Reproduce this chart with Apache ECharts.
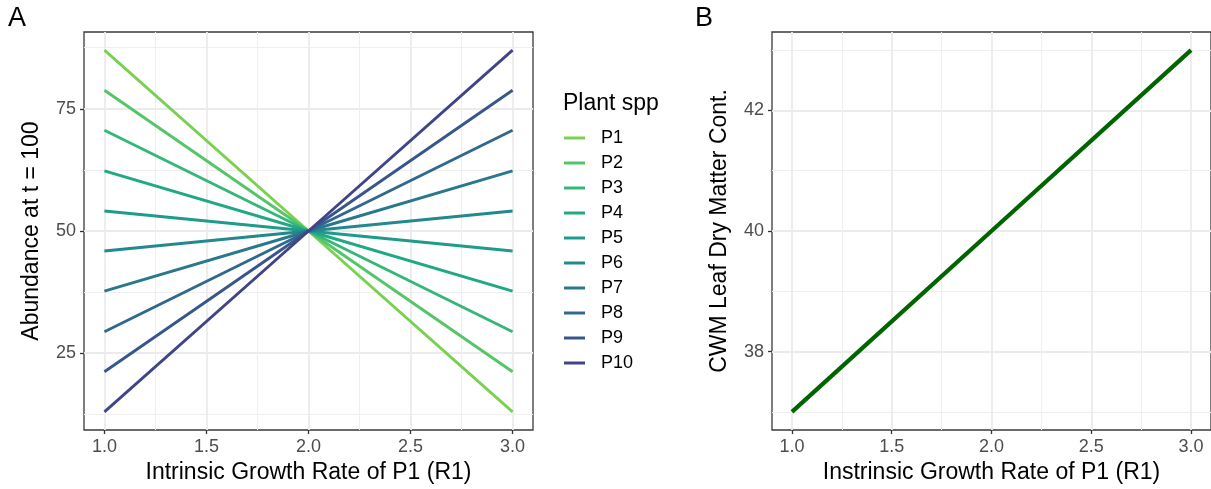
<!DOCTYPE html>
<html><head><meta charset="utf-8">
<script src="https://cdn.jsdelivr.net/npm/echarts@6/dist/echarts.min.js"></script>
<style>html,body{margin:0;padding:0;background:#fff}#c{width:1211px;height:489px}</style>
</head><body><div id="c"></div>
<script>
// ---- data ----
const r1 = [1.0, 2.0, 3.0];
const P1 = [87.0, 50.0, 13.0];
const P2 = [78.8, 50.0, 21.2];
const P3 = [70.6, 50.0, 29.4];
const P4 = [62.3, 50.0, 37.7];
const P5 = [54.1, 50.0, 45.9];
const P6 = [45.9, 50.0, 54.1];
const P7 = [37.7, 50.0, 62.3];
const P8 = [29.4, 50.0, 70.6];
const P9 = [21.2, 50.0, 78.8];
const P10 = [13.0, 50.0, 87.0];
const cwmLdmc = [37.0, 40.0, 43.0];
const speciesNames = ['P1','P2','P3','P4','P5','P6','P7','P8','P9','P10'];
const speciesValues = [P1,P2,P3,P4,P5,P6,P7,P8,P9,P10];
const speciesColors = ['#7AD151','#54C568','#35B779','#22A884','#1E9B8A','#23898E','#2A788E','#31688E','#39568C','#414487'];
const xTicks = [1.0, 1.5, 2.0, 2.5, 3.0];
const xMinor = [1.25, 1.75, 2.25, 2.75];
const yTicksA = [25, 50, 75];
const yMinorA = [12.5, 37.5, 62.5, 87.5];
const yTicksB = [38, 40, 42];
const yMinorB = [37, 39, 41, 43];

const FONT = '"Liberation Sans", Arial, sans-serif';
const GRID_MAJOR = {color:'#EBEBEB', width:1.8};
const GRID_MINOR = {color:'#EFEFEF', width:1};
const TITLE_SIZE = 23;
const TICK_SIZE = 18;

function majorX(gi, name) {
  return {type:'value', gridIndex:gi, min:0.9, max:3.1, position:'bottom',
    name:name, nameLocation:'middle', nameGap:31,
    nameTextStyle:{fontFamily:FONT, fontSize:TITLE_SIZE, color:'#000'},
    axisLine:{show:false},
    axisTick:{show:true, length:4, customValues:xTicks, lineStyle:{color:'#333', width:1.3}},
    axisLabel:{customValues:xTicks, formatter:v=>Number(v).toFixed(1), fontFamily:FONT, fontSize:TICK_SIZE, color:'#4D4D4D', margin:8},
    splitLine:{show:true, lineStyle:GRID_MAJOR}};
}
function minorX(gi) {
  return {type:'value', gridIndex:gi, min:0.9, max:3.1, position:'bottom',
    axisLine:{show:false}, axisTick:{show:false, customValues:xMinor}, axisLabel:{show:false},
    splitLine:{show:true, lineStyle:GRID_MINOR}};
}
function majorY(gi, name, mn, mx, ticks) {
  return {type:'value', gridIndex:gi, min:mn, max:mx, position:'left',
    name:name, nameLocation:'middle', nameGap:41, nameRotate:90,
    nameTextStyle:{fontFamily:FONT, fontSize:TITLE_SIZE, color:'#000'},
    axisLine:{show:false},
    axisTick:{show:true, length:4, customValues:ticks, lineStyle:{color:'#333', width:1.3}},
    axisLabel:{customValues:ticks, fontFamily:FONT, fontSize:TICK_SIZE, color:'#4D4D4D', margin:8},
    splitLine:{show:true, lineStyle:GRID_MAJOR}};
}
function minorY(gi, mn, mx, ticks) {
  return {type:'value', gridIndex:gi, min:mn, max:mx, position:'left',
    axisLine:{show:false}, axisTick:{show:false, customValues:ticks}, axisLabel:{show:false},
    splitLine:{show:true, lineStyle:GRID_MINOR}};
}

const series = speciesNames.map((n, i) => ({
  name:n, type:'line', xAxisIndex:0, yAxisIndex:0, symbol:'none',
  lineStyle:{color:speciesColors[i], width:2.9}, itemStyle:{color:speciesColors[i]},
  data:r1.map((x, j) => [x, speciesValues[i][j]]), z:3
}));
series.push({
  name:'CWM', type:'line', xAxisIndex:2, yAxisIndex:2, symbol:'none',
  lineStyle:{color:'#006400', width:4.2}, data:r1.map((x, j) => [x, cwmLdmc[j]]), z:3
});

const chart = echarts.init(document.getElementById('c'));
chart.setOption({
  animation:false,
  backgroundColor:'#fff',
  textStyle:{fontFamily:FONT},
  title:[
    {text:'A', left:8, top:5, padding:0, textStyle:{fontFamily:FONT, fontSize:27, fontWeight:'normal', color:'#000'}},
    {text:'B', left:695, top:5, padding:0, textStyle:{fontFamily:FONT, fontSize:27, fontWeight:'normal', color:'#000'}},
    {text:'Plant spp', left:563, top:92, padding:0, textStyle:{fontFamily:FONT, fontSize:TITLE_SIZE, fontWeight:'normal', color:'#000'}}
  ],
  legend:{data:speciesNames, orient:'vertical', left:564, top:129, padding:0,
    icon:'rect', itemWidth:21, itemHeight:3, itemGap:7, selectedMode:false,
    textStyle:{fontFamily:FONT, fontSize:TICK_SIZE, color:'#000', lineHeight:18, padding:[0,0,0,11]}},
  grid:[
    {left:84, top:32, width:449, height:400, show:true, borderColor:'#3a3a3a', borderWidth:1.3, backgroundColor:'transparent'},
    {left:772, top:32, width:444, height:400, show:true, borderColor:'#3a3a3a', borderWidth:1.3, backgroundColor:'transparent'}
  ],
  xAxis:[majorX(0,'Intrinsic Growth Rate of P1 (R1)'), minorX(0), majorX(1,'Instrinsic Growth Rate of P1 (R1)'), minorX(1)],
  yAxis:[majorY(0,'Abundance at t = 100', 9.3, 90.7, yTicksA), minorY(0, 9.3, 90.7, yMinorA),
         majorY(1,'CWM Leaf Dry Matter Cont.', 36.7, 43.3, yTicksB), minorY(1, 36.7, 43.3, yMinorB)],
  series:series
});
</script></body></html>
